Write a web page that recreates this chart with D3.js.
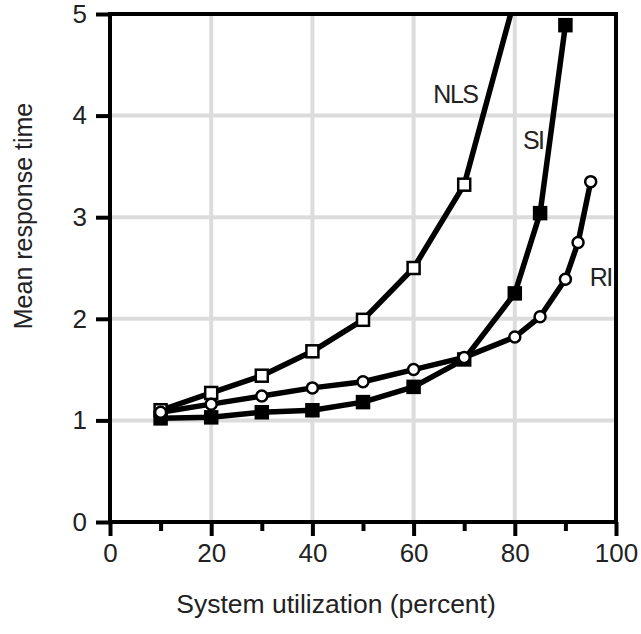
<!DOCTYPE html>
<html>
<head>
<meta charset="utf-8">
<script src="https://cdn.jsdelivr.net/npm/d3@7/dist/d3.min.js"></script>
<style>
  html, body { margin: 0; padding: 0; background: #fff; }
  svg { display: block; }
  text { font-family: "Liberation Sans", Arial, sans-serif; fill: #222; }
</style>
</head>
<body>
<svg id="chart" width="641" height="634"></svg>
<script>
// ---- data ----
const nlsX = [10, 20, 30, 40, 50, 60, 70, 80];
const nlsY = [1.10, 1.27, 1.44, 1.68, 1.99, 2.50, 3.32, 5.15];
const siX = [10, 20, 30, 40, 50, 60, 70, 80, 85, 90];
const siY = [1.02, 1.03, 1.08, 1.10, 1.18, 1.33, 1.60, 2.25, 3.04, 4.89];
const riX = [10, 20, 30, 40, 50, 60, 70, 80, 85, 90, 92.5, 95];
const riY = [1.08, 1.16, 1.24, 1.32, 1.38, 1.50, 1.62, 1.82, 2.02, 2.39, 2.75, 3.35];
const xTicks = [0, 20, 40, 60, 80, 100];
const xMinorTicks = [10, 30, 50, 70, 90];
const yTicks = [0, 1, 2, 3, 4, 5];
const xTitle = "System utilization (percent)";
const yTitle = "Mean response time";
const seriesLabels = ["NLS", "SI", "RI"];

// ---- layout ----
const svg = d3.select("#chart");
const x = d3.scaleLinear().domain([0, 100]).range([110, 616]);
const y = d3.scaleLinear().domain([0, 5]).range([522, 14]);

svg.append("defs").append("clipPath").attr("id", "plotclip")
  .append("rect")
  .attr("x", x(0)).attr("y", y(5) + 2)
  .attr("width", x(100) - x(0)).attr("height", y(0) - y(5) - 2);

// grid
const grid = svg.append("g");
grid.selectAll("line.v").data(xTicks.filter(d => d > 0 && d < 100)).enter()
  .append("line")
  .attr("x1", d => x(d)).attr("x2", d => x(d))
  .attr("y1", y(5)).attr("y2", y(0))
  .attr("stroke", "#dcdcdc").attr("stroke-width", 4);
grid.selectAll("line.h").data(yTicks.filter(d => d > 0 && d < 5)).enter()
  .append("line")
  .attr("x1", x(0)).attr("x2", x(100))
  .attr("y1", d => y(d)).attr("y2", d => y(d))
  .attr("stroke", "#dcdcdc").attr("stroke-width", 4);

// series
const series = [
  { name: "NLS", xs: nlsX, ys: nlsY, marker: "square", fill: "#fff" },
  { name: "SI", xs: siX, ys: siY, marker: "square", fill: "#000" },
  { name: "RI", xs: riX, ys: riY, marker: "circle", fill: "#fff" }
];

const line = d3.line().x(d => x(d[0])).y(d => y(d[1]));
const plot = svg.append("g").attr("clip-path", "url(#plotclip)");

series.forEach(s => {
  const pts = s.xs.map((v, i) => [v, s.ys[i]]);
  plot.append("path")
    .datum(pts)
    .attr("d", line)
    .attr("fill", "none")
    .attr("stroke", "#000")
    .attr("stroke-width", 5.5)
    .attr("stroke-linejoin", "round");
});

series.forEach(s => {
  const pts = s.xs.map((v, i) => [v, s.ys[i]]);
  if (s.marker === "square") {
    const sz = 12;
    plot.selectAll(null).data(pts).enter()
      .append("rect")
      .attr("x", d => x(d[0]) - sz / 2)
      .attr("y", d => y(d[1]) - sz / 2)
      .attr("width", sz).attr("height", sz)
      .attr("fill", s.fill).attr("stroke", "#000").attr("stroke-width", 2.5);
  } else {
    plot.selectAll(null).data(pts).enter()
      .append("circle")
      .attr("cx", d => x(d[0])).attr("cy", d => y(d[1]))
      .attr("r", 5.5)
      .attr("fill", s.fill).attr("stroke", "#000").attr("stroke-width", 2.5);
  }
});

// axes
const xAxis = d3.axisBottom(x).tickValues(xTicks).tickSize(14).tickPadding(8).tickFormat(d3.format("d"));
const xAxisMinor = d3.axisBottom(x).tickValues(xMinorTicks).tickSize(9).tickFormat("");
const yAxis = d3.axisLeft(y).tickValues(yTicks).tickSize(14).tickPadding(9).tickFormat(d3.format("d"));

const gx = svg.append("g").attr("transform", `translate(0,${y(0)})`).call(xAxis);
const gxm = svg.append("g").attr("transform", `translate(0,${y(0)})`).call(xAxisMinor);
const gy = svg.append("g").attr("transform", `translate(${x(0)},0)`).call(yAxis);

[gx, gxm, gy].forEach(g => {
  g.select(".domain").remove();
  g.selectAll(".tick line").attr("stroke", "#000").attr("stroke-width", 4);
  g.selectAll("text").attr("font-size", 26).attr("fill", "#222")
    .style("font-family", "'Liberation Sans', Arial, sans-serif");
});

// frame
svg.append("rect")
  .attr("x", x(0)).attr("y", y(5))
  .attr("width", x(100) - x(0)).attr("height", y(0) - y(5))
  .attr("fill", "none").attr("stroke", "#000").attr("stroke-width", 4);

// axis titles
svg.append("text")
  .attr("x", 336)
  .attr("y", 613)
  .attr("text-anchor", "middle")
  .attr("font-size", 26.5)
  .text(xTitle);

svg.append("text")
  .attr("transform", `translate(32,216) rotate(-90)`)
  .attr("text-anchor", "middle")
  .attr("font-size", 25)
  .text(yTitle);

// series labels
const labelPos = [
  { dx: 63.9, dy: 4.12 },
  { dx: 81.6, dy: 3.67 },
  { dx: 94.8, dy: 2.32 }
];
svg.selectAll("text.series").data(seriesLabels).enter()
  .append("text")
  .attr("class", "series")
  .attr("x", (d, i) => x(labelPos[i].dx))
  .attr("y", (d, i) => y(labelPos[i].dy))
  .attr("font-size", 25)
  .attr("letter-spacing", -1.5)
  .text(d => d);
</script>
</body>
</html>
